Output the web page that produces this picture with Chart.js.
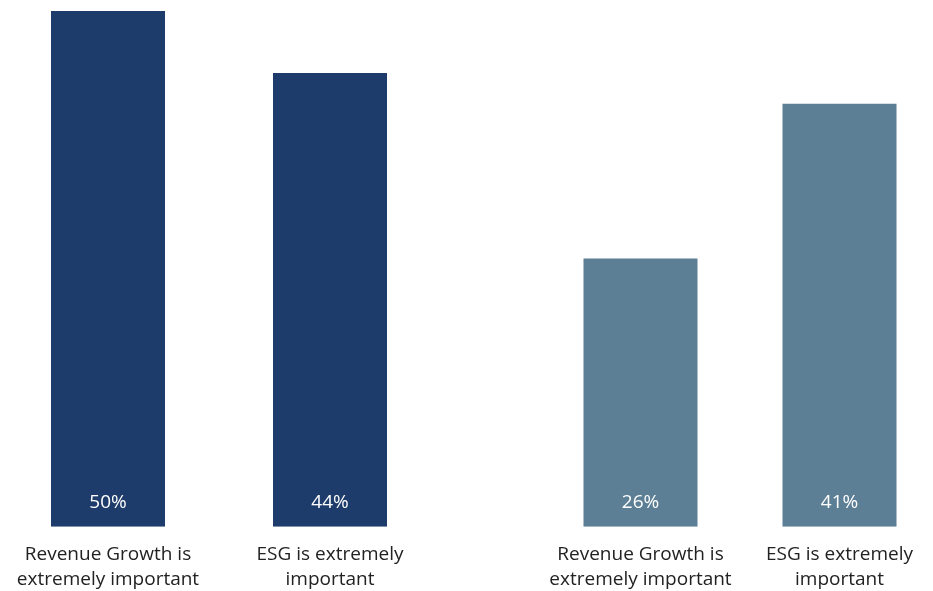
<!DOCTYPE html>
<html>
<head>
<meta charset="utf-8">
<script src="https://cdn.jsdelivr.net/npm/chart.js@4"></script>
<style>
  html, body { margin: 0; padding: 0; background: #fff; overflow: hidden; }
  body { width: 933px; height: 591px; position: relative; }
  canvas { position: absolute; top: 0; }
  #leftChart { left: -3px; }
  #rightChart { left: 541px; }
</style>
</head>
<body>
<canvas id="leftChart" width="444" height="607"></canvas>
<canvas id="rightChart" width="398" height="607"></canvas>
<script>
const tickLabels = [
  ['Revenue Growth is', 'extremely important'],
  ['ESG is extremely', 'important']
];
const leftValues = [50, 44];
const rightValues = [26, 41];

const FONT = "'Open Sans', sans-serif";

// white percentage written near the foot of each bar
const valueLabels = {
  id: 'valueLabels',
  afterDatasetsDraw(chart) {
    const ctx = chart.ctx;
    const meta = chart.getDatasetMeta(0);
    ctx.save();
    ctx.fillStyle = '#ffffff';
    ctx.font = '19px ' + FONT;
    ctx.textAlign = 'center';
    ctx.textBaseline = 'middle';
    meta.data.forEach(function(bar, i) {
      const v = chart.data.datasets[0].data[i];
      ctx.fillText(v + '%', bar.x, bar.base - 24);
    });
    ctx.restore();
  }
};

function makeChart(id, values, colour, barPct) {
  const ctx = document.getElementById(id).getContext('2d');
  return new Chart(ctx, {
    type: 'bar',
    data: {
      labels: tickLabels,
      datasets: [{
        data: values,
        backgroundColor: colour,
        borderWidth: 0,
        categoryPercentage: 1,
        barPercentage: barPct
      }]
    },
    options: {
      responsive: false,
      animation: false,
      layout: { padding: { top: 11, left: 0, right: 0, bottom: 0 } },
      plugins: { legend: { display: false }, tooltip: { enabled: false } },
      scales: {
        y: {
          display: false,
          min: 0,
          max: 50
        },
        x: {
          border: { display: false },
          grid: { display: false, drawTicks: false },
          // wide labels may hang past the edge; keep the full width for bars
          afterFit(scale) {
            scale.paddingLeft = 0;
            scale.paddingRight = 0;
          },
          ticks: {
            padding: 15,
            color: '#222222',
            maxRotation: 0,
            autoSkip: false,
            font: { family: FONT, size: 19, lineHeight: 1.32 }
          }
        }
      }
    },
    plugins: [valueLabels]
  });
}

makeChart('leftChart', leftValues, '#1e3c6b', 114 / 222);
makeChart('rightChart', rightValues, '#5c7f95', 114 / 199);
</script>
</body>
</html>
